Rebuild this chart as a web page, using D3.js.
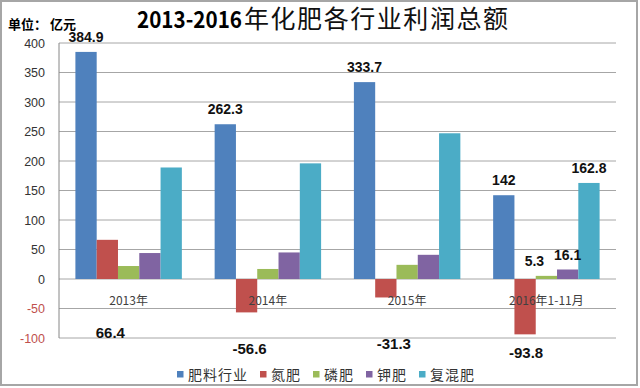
<!DOCTYPE html>
<html>
<head>
<meta charset="utf-8">
<script src="https://cdn.jsdelivr.net/npm/d3@7"></script>
<style>
  html, body { margin: 0; padding: 0; background: #fff; }
  svg { display: block; font-family: "Liberation Sans", Arial, sans-serif; }
  .cjk { font-family: "Noto Sans CJK SC", sans-serif; }
</style>
</head>
<body>
<svg id="chart" width="640" height="388"></svg>
<script>
const categories = ["2013年", "2014年", "2015年", "2016年1-11月"];
const seriesNames = ["肥料行业", "氮肥", "磷肥", "钾肥", "复混肥"];
const colors = ["#4f81bd", "#c0504d", "#9bbb59", "#8064a2", "#4bacc6"];

const fertTotal = [384.9, 262.3, 333.7, 142];
const nitrogen  = [66.4, -56.6, -31.3, -93.8];
const phosphate = [22, 17, 24, 5.3];
const potash    = [44, 45, 41, 16.1];
const compound  = [189, 196, 247, 162.8];
const yTicks = [400, 350, 300, 250, 200, 150, 100, 50, 0, -50, -100];

// data labels: [seriesIndex, categoryIndex, text]
const labels = [
  [0, 0, "384.9"], [0, 1, "262.3"], [0, 2, "333.7"], [0, 3, "142"],
  [1, 0, "66.4"], [1, 1, "-56.6"], [1, 2, "-31.3"], [1, 3, "-93.8"],
  [2, 3, "5.3"], [3, 3, "16.1"], [4, 3, "162.8"]
];

const values = [fertTotal, nitrogen, phosphate, potash, compound];
const svg = d3.select("#chart");
const W = 640, H = 388;
const m = { top: 43, right: 24, bottom: 50, left: 59 };

// frame
svg.append("rect").attr("x", 1).attr("y", 1).attr("width", W - 4).attr("height", H - 4)
  .attr("fill", "#fff").attr("stroke", "#a6a6a6").attr("stroke-width", 2);

const y = d3.scaleLinear().domain([-100, 400]).range([H - m.bottom, m.top]);
const x0 = d3.scaleBand().domain(categories).range([m.left, W - m.right]);
const x1 = d3.scaleBand().domain(seriesNames).range([0, x0.bandwidth()]).paddingOuter(0.77);

// gridlines
svg.append("g").selectAll("line").data(yTicks).join("line")
  .attr("x1", m.left).attr("x2", W - m.right)
  .attr("y1", (d) => y(d)).attr("y2", (d) => y(d))
  .attr("stroke", "#a6a6a6").attr("stroke-width", 1);

// axis line
svg.append("line").attr("x1", m.left).attr("x2", m.left)
  .attr("y1", y(400)).attr("y2", y(-100)).attr("stroke", "#868686");

// tick labels
svg.append("g").selectAll("text").data(yTicks).join("text")
  .attr("x", 45).attr("y", (d) => y(d) + 4.5)
  .attr("text-anchor", "end").attr("font-size", 12.5)
  .attr("fill", (d) => d < 0 ? "#c0504d" : "#333")
  .text((d) => d);

// bars
const rows = [];
values.forEach((vals, si) => vals.forEach((v, ci) => rows.push({ si, ci, v })));
svg.append("g").selectAll("rect").data(rows).join("rect")
  .attr("x", (d) => x0(categories[d.ci]) + x1(seriesNames[d.si]))
  .attr("width", x1.bandwidth())
  .attr("y", (d) => y(Math.max(0, d.v)))
  .attr("height", (d) => Math.abs(y(d.v) - y(0)))
  .attr("fill", (d) => colors[d.si]);

// category labels
svg.append("g").selectAll("text").data(categories).join("text")
  .attr("class", "cjk")
  .attr("x", (d) => x0(d) + x0.bandwidth() / 2).attr("y", y(0) + 26)
  .attr("text-anchor", "middle").attr("font-size", 12).attr("fill", "#404040")
  .text((d) => d);

// data labels
const nudge = { "1,0": [3, 338], "1,1": [3, 354], "1,2": [8, 349], "1,3": [1, 358], "2,3": [-12, null] };
svg.append("g").selectAll("text").data(labels).join("text")
  .attr("x", ([si, ci]) => {
    const n = nudge[si + "," + ci];
    return x0(categories[ci]) + x1(seriesNames[si]) + x1.bandwidth() / 2 + (n ? n[0] : 0);
  })
  .attr("y", ([si, ci]) => {
    const n = nudge[si + "," + ci];
    if (n && n[1] != null) return n[1];
    return Math.max(42, y(values[si][ci]) - 10);
  })
  .attr("text-anchor", "middle").attr("font-weight", "bold")
  .attr("font-size", ([si]) => si === 1 ? 15 : 14).attr("fill", "#111")
  .text((d) => d[2]);

// title
const title = svg.append("text").attr("x", 137).attr("y", 28).attr("class", "cjk");
title.append("tspan").attr("font-weight", "bold").attr("font-size", 23)
  .attr("textLength", 105).attr("lengthAdjust", "spacingAndGlyphs").text("2013-2016");
title.append("tspan").attr("dx", 2).attr("font-size", 25).attr("fill", "#111")
  .attr("textLength", 264).attr("lengthAdjust", "spacing").text("年化肥各行业利润总额");

svg.append("text").attr("class", "cjk").attr("x", 8).attr("y", 29)
  .attr("font-size", 13).attr("font-weight", "bold").text("单位： 亿元");

// legend
const lg = svg.append("g").attr("class", "cjk");
let lx = 177;
seriesNames.forEach((s, i) => {
  lg.append("rect").attr("x", lx).attr("y", 371).attr("width", 6.5).attr("height", 6.5).attr("fill", colors[i]);
  const t = lg.append("text").attr("x", lx + 11).attr("y", 380).attr("font-size", 14)
    .attr("letter-spacing", 1).attr("fill", "#333").text(s);
  lx += 11 + t.node().getComputedTextLength() + 12;
});
</script>
</body>
</html>
